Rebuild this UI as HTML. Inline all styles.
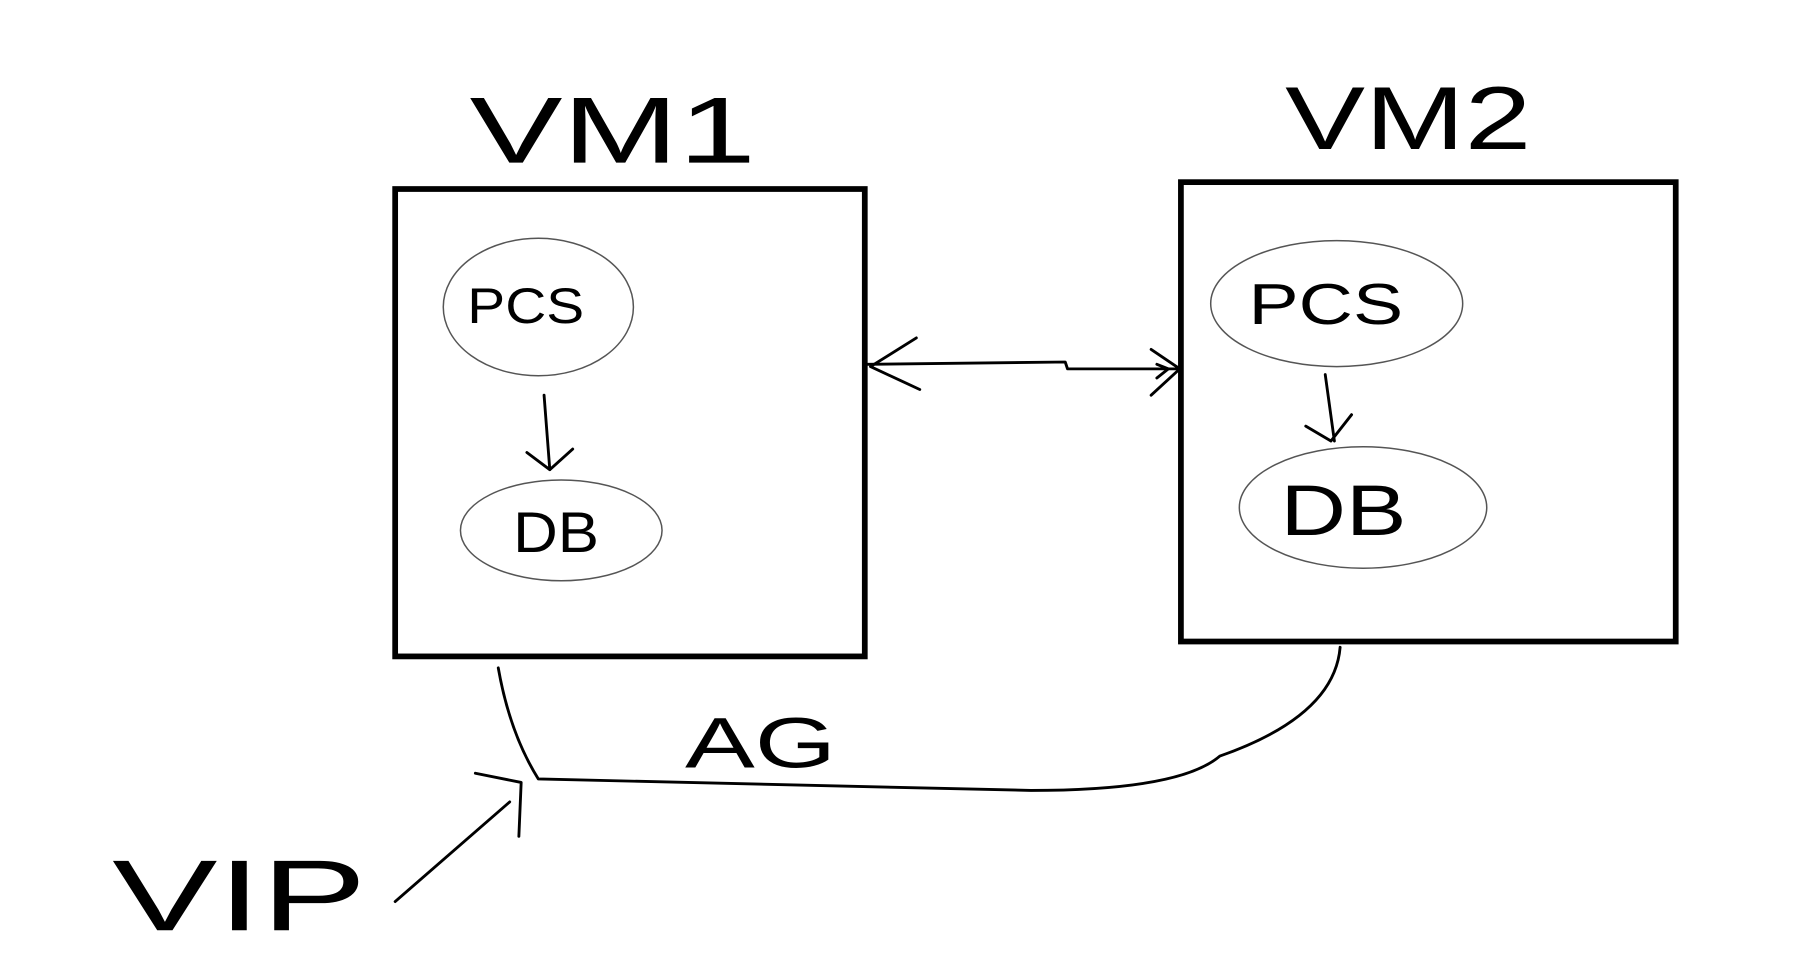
<!DOCTYPE html>
<html><head><meta charset="utf-8"><style>
html,body{margin:0;padding:0;background:#fff;}
svg{display:block;}
text{font-family:"Liberation Sans",sans-serif;fill:#000;}
</style></head><body>
<svg width="1796" height="968" viewBox="0 0 1568 845" preserveAspectRatio="none" xmlns="http://www.w3.org/2000/svg">
<rect x="0" y="0" width="1568" height="845" fill="#fff"/>
<g fill="none" stroke="#000">
<rect x="345" y="165" width="410" height="408" stroke-width="5"/>
<rect x="1031" y="159" width="432" height="401" stroke-width="5"/>
<ellipse cx="470" cy="268" rx="83" ry="60" stroke="#555" stroke-width="1.3"/>
<ellipse cx="490" cy="463" rx="88" ry="44" stroke="#555" stroke-width="1.3"/>
<ellipse cx="1167" cy="265" rx="110" ry="55" stroke="#555" stroke-width="1.3"/>
<ellipse cx="1190" cy="443" rx="108" ry="53" stroke="#555" stroke-width="1.3"/>
<g stroke-width="2.5" stroke-linecap="round" stroke-linejoin="round">
<path d="M475 345 L480 410 M460 395 L480 410 L500 392"/>
<path d="M1157 327 L1165 385 M1140 372 L1162 385 L1180 362"/>
<path d="M757 318 L930 316 L932 322 L1030 322"/>
<path d="M800 295 L760 320 L803 340"/>
<path d="M1005 305 L1030 322 L1005 345 M1010 318 L1020 322 L1010 330"/>
<path d="M435 583 Q445 640 470 680 Q700 685 900 690 Q1030 690 1065 660 Q1165 625 1170 565"/>
<path d="M345 787 L445 700"/>
<path d="M415 675 L455 683 L453 730"/>
</g>
</g>
<text x="410" y="142" font-size="82" textLength="250" lengthAdjust="spacingAndGlyphs">VM1</text>
<text x="1122" y="130" font-size="78" textLength="215" lengthAdjust="spacingAndGlyphs">VM2</text>
<text x="408" y="282" font-size="44" textLength="102" lengthAdjust="spacingAndGlyphs">PCS</text>
<text x="448" y="482" font-size="50" textLength="75" lengthAdjust="spacingAndGlyphs">DB</text>
<text x="1090" y="283" font-size="50" textLength="135" lengthAdjust="spacingAndGlyphs">PCS</text>
<text x="1118" y="467" font-size="62" textLength="110" lengthAdjust="spacingAndGlyphs">DB</text>
<text x="598" y="670" font-size="62" textLength="132" lengthAdjust="spacingAndGlyphs">AG</text>
<text x="98" y="812" font-size="88" textLength="222" lengthAdjust="spacingAndGlyphs">VIP</text>
</svg>
</body></html>
